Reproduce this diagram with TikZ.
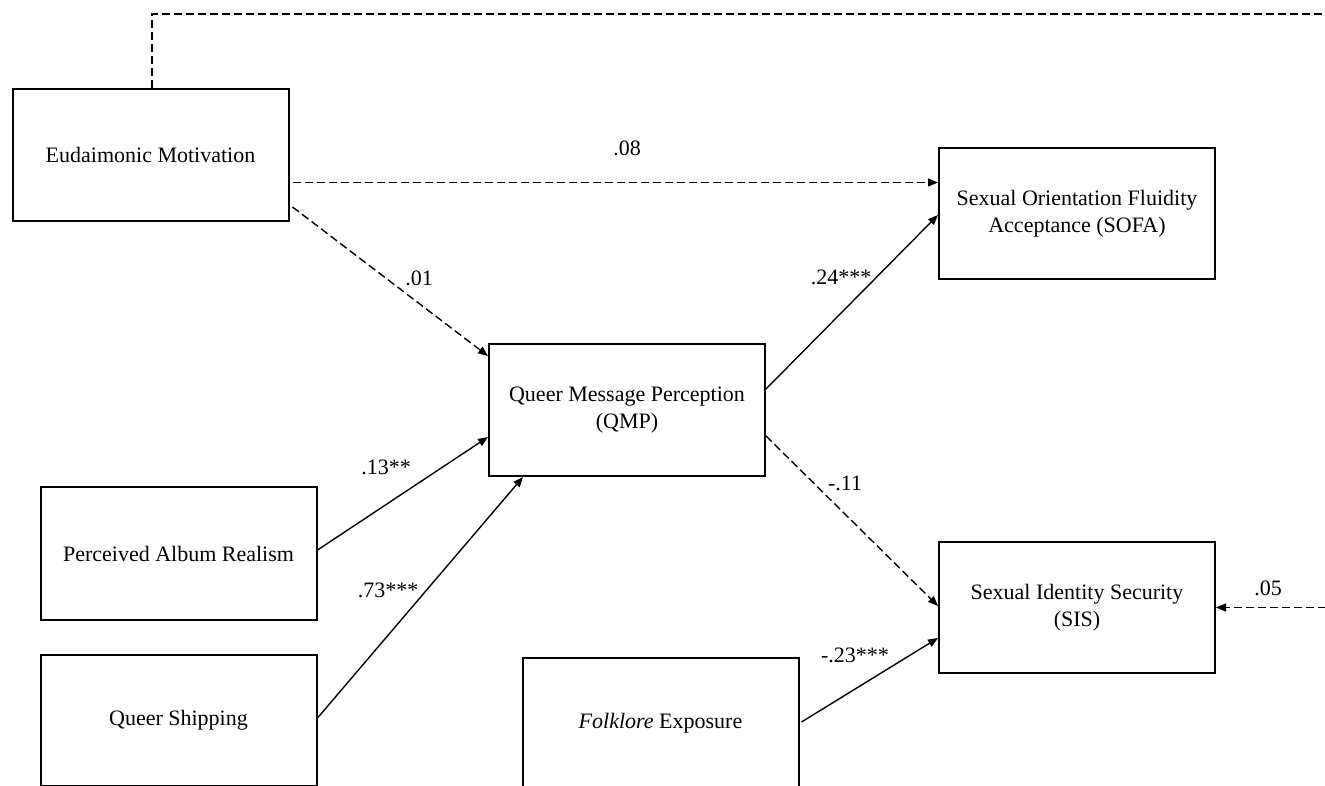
\documentclass[tikz,border=0pt]{standalone}
\usepackage{fontspec}
\setmainfont{Liberation Serif}
\usetikzlibrary{arrows.meta,calc}
\begin{document}
\begin{tikzpicture}[x=1pt,y=-1pt,
  every node/.style={font=\fontsize{22}{26.5}\selectfont},
  var/.style={draw,line width=2pt,minimum width=276pt,minimum height=131pt,align=center,inner sep=0pt},
  path/.style={line width=1.4pt,-{Triangle[length=10pt,width=8pt]}},
  dpath/.style={path,dash pattern=on 8pt off 4pt},
  lbl/.style={inner sep=0pt}]
\clip (0,0) rectangle (1325,786);
\fill[white] (0,0) rectangle (1325,786);
% variables
\node[var,minimum height=132pt] (eud) at (150.5,155) {Eudaimonic Motivation};
\node[var] (sofa) at (1077,213.5) {Sexual Orientation Fluidity\\Acceptance (SOFA)};
\node[var,minimum height=132pt] (qmp) at (627,410) {Queer Message Perception\\(QMP)};
\node[var,minimum height=133pt] (par) at (178.5,553.5) {Perceived Album Realism};
\node[var] (qs) at (178.5,720) {Queer Shipping};
\node[var] (folk) at (660.5,723.5) {\textit{Folklore} Exposure};
\node[var] (sis) at (1077,607.5) {Sexual Identity Security\\(SIS)};
% free ends on the right border
\coordinate (topR) at (1326,14);
\coordinate (sisR) at (1326,607.5);
% connectors
\draw[line width=1.4pt,dash pattern=on 8pt off 4pt] ($(eud.north)+(1.5,0)$) |- (topR);
\draw[dpath] ($(eud.east)+(3,27.5)$) -- ($(sofa.west)+(0,-31)$);
\draw[dpath] ($(eud.east)+(3,52)$) -- ($(qmp.west)+(0,-54)$);
\draw[path] ($(par.east)+(0,-3.5)$) -- ($(qmp.west)+(0,27)$);
\draw[path] ($(qs.east)+(0,-2)$) -- ($(qmp.south west)+(35,0)$);
\draw[path] ($(qmp.east)+(0,-21)$) -- ($(sofa.west)+(0,1.5)$);
\draw[dpath] ($(qmp.east)+(0,26)$) -- ($(sis.west)+(0,-1.5)$);
\draw[path] ($(folk.east)+(2,-1.5)$) -- ($(sis.west)+(0,30.5)$);
\draw[dpath] (sisR) -- (sis.east);
% labels
\node[lbl] (l08) at (627,148) {.08};
\node[lbl] (l01) at (419,278) {.01};
\node[lbl] (l24) at (841,277) {.24***};
\node[lbl] (l11) at (845,483) {-.11};
\node[lbl] (l13) at (386,467) {.13**};
\node[lbl] (l73) at (388,590) {.73***};
\node[lbl] (l23) at (855,655) {-.23***};
\node[lbl] (l05) at (1268,588) {.05};
\end{tikzpicture}
\end{document}
